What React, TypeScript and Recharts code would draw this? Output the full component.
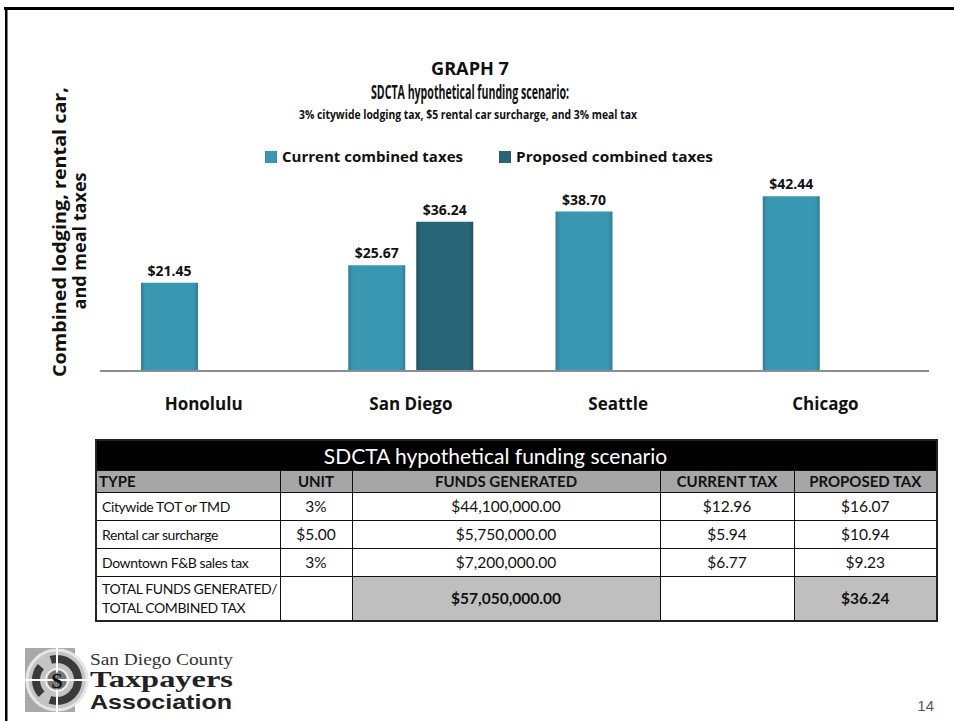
import React from 'react';
import { BarChart, Bar, XAxis, YAxis, Legend, LabelList } from 'recharts';

// chart values
const cities = ['Honolulu', 'San Diego', 'Seattle', 'Chicago'];
const currentTaxes = [21.45, 25.67, 38.7, 42.44];
const proposedTaxes: (number | null)[] = [null, 36.24, null, null];

// table values
const taxTypes = ['Citywide TOT or TMD', 'Rental car surcharge', 'Downtown F&B sales tax'];
const taxUnits = ['3%', '$5.00', '3%'];
const fundsGenerated = ['$44,100,000.00', '$5,750,000.00', '$7,200,000.00'];
const currentTax = ['$12.96', '$5.94', '$6.77'];
const proposedTax = ['$16.07', '$10.94', '$9.23'];
const totalFunds = '$57,050,000.00';
const totalProposed = '$36.24';

const CURRENT = '#3a97b1';
const PROPOSED = '#276577';
const FONT = '"Open Sans", sans-serif';

const chartData = cities.map((city, i) => ({
  city,
  current: currentTaxes[i],
  proposed: proposedTaxes[i],
}));

const money = (v: any) => (v == null ? '' : `$${Number(v).toFixed(2)}`);

function CityTick({ x, y, payload }: any) {
  return (
    <text x={x} y={y} dy={39} textAnchor="middle" fontFamily={FONT} fontWeight={700} fontSize={17} fill="#111">
      {payload.value}
    </text>
  );
}

function LegendContent({ payload }: any) {
  const widths = [181, 197];
  return (
    <svg width={470} height={20} style={{ display: 'block' }}>
      {(payload || []).map((item: any, i: number) => (
        <g key={item.value} transform={`translate(${i * 234}, 0)`}>
          <rect x={3} y={4} width={12} height={12} fill={item.color} />
          <text
            x={20}
            y={15}
            fontFamily={FONT}
            fontWeight={700}
            fontSize={14}
            fill="#111"
            textLength={widths[i]}
            lengthAdjust="spacingAndGlyphs"
          >
            {item.value}
          </text>
        </g>
      ))}
    </svg>
  );
}

const cell: React.CSSProperties = {
  border: '1px solid #111',
  padding: 0,
  textAlign: 'center',
  whiteSpace: 'nowrap',
};

const typeCell: React.CSSProperties = {
  ...cell,
  textAlign: 'left',
  paddingLeft: 5,
  fontSize: 14,
  letterSpacing: -0.4,
};

export default function App() {
  return (
    <div style={{ position: 'absolute', left: 0, top: 0, width: 954, height: 721, background: '#fff', overflow: 'hidden' }}>
      <div style={{ position: 'absolute', left: 0, top: 0 }}>
        <BarChart
          width={954}
          height={430}
          data={chartData}
          margin={{ top: 165, right: 25, bottom: -1, left: 100 }}
          barCategoryGap={41}
          barGap={11}
        >
          <defs>
            <linearGradient id="gCur" x1="0" y1="0" x2="1" y2="0">
              <stop offset="0%" stopColor="#2d7f97" />
              <stop offset="8%" stopColor={CURRENT} />
              <stop offset="92%" stopColor={CURRENT} />
              <stop offset="100%" stopColor="#2d7f97" />
            </linearGradient>
            <linearGradient id="gProp" x1="0" y1="0" x2="1" y2="0">
              <stop offset="0%" stopColor="#1e5261" />
              <stop offset="8%" stopColor={PROPOSED} />
              <stop offset="92%" stopColor={PROPOSED} />
              <stop offset="100%" stopColor="#1e5261" />
            </linearGradient>
          </defs>
          <XAxis
            dataKey="city"
            height={40}
            tickLine={false}
            tickSize={0}
            tickMargin={0}
            axisLine={{ stroke: '#8c8c8c', strokeWidth: 2 }}
            tick={<CityTick />}
            interval={0}
          />
          <YAxis hide domain={[0, 50]} />
          <Legend
            content={<LegendContent />}
            wrapperStyle={{ position: 'absolute', top: 147, left: 262, width: 470 }}
          />
          <Bar dataKey="current" name="Current combined taxes" fill="url(#gCur)" isAnimationActive={false}>
            <LabelList
              dataKey="current"
              position="top"
              offset={7}
              formatter={money}
              style={{ fontFamily: FONT, fontWeight: 700, fontSize: 14, fill: '#111' }}
            />
          </Bar>
          <Bar dataKey="proposed" name="Proposed combined taxes" fill="url(#gProp)" isAnimationActive={false}>
            <LabelList
              dataKey="proposed"
              position="top"
              offset={7}
              formatter={money}
              style={{ fontFamily: FONT, fontWeight: 700, fontSize: 14, fill: '#111' }}
            />
          </Bar>
        </BarChart>
      </div>

      {/* slide frame, titles, axis title, logo */}
      <svg width={954} height={721} style={{ position: 'absolute', left: 0, top: 0, pointerEvents: 'none' }}>
        <rect x={4} y={7} width={950} height={3} fill="#000" />
        <rect x={5} y={7} width={2.5} height={714} fill="#000" />

        <g fontFamily={FONT} fontWeight={700} fill="#111" textAnchor="middle">
          <text x={470} y={75} fontSize={18} textLength={78} lengthAdjust="spacingAndGlyphs">GRAPH 7</text>
          <text x={470} y={99} fontSize={19} textLength={198} lengthAdjust="spacingAndGlyphs">
            SDCTA hypothetical funding scenario:
          </text>
          <text x={468} y={119} fontSize={13} textLength={338} lengthAdjust="spacingAndGlyphs">
            3% citywide lodging tax, $5 rental car surcharge, and 3% meal tax
          </text>
          <text
            transform="translate(66, 232) rotate(-90)"
            fontSize={17}
            textLength={290}
            lengthAdjust="spacingAndGlyphs"
          >
            Combined lodging,  rental car,
          </text>
          <text
            transform="translate(86, 241) rotate(-90)"
            fontSize={17}
            textLength={137}
            lengthAdjust="spacingAndGlyphs"
          >
            and meal taxes
          </text>
        </g>

        {/* logo */}
        <g>
          <rect x={25} y={648} width={50} height={64} fill="#a9a9a9" />
          <circle cx={57} cy={680} r={30} fill="#c4c4c4" stroke="#e6e6e6" strokeWidth={3} />
          <circle cx={57} cy={680} r={21} fill="none" stroke="#3a3a3a" strokeWidth={8} strokeDasharray="40 10 30 12" />
          <circle cx={57} cy={680} r={11} fill="#777" stroke="#eee" strokeWidth={2} />
          <line x1={24} y1={680} x2={90} y2={680} stroke="#fff" strokeWidth={2} />
          <line x1={57} y1={646} x2={57} y2={714} stroke="#fff" strokeWidth={2} />
          <text x={57} y={688} textAnchor="middle" fontFamily="Liberation Serif" fontWeight={700} fontSize={22} fill="#111">
            $
          </text>
          <text x={90} y={665} fontFamily="Liberation Serif" fontSize={16} fill="#333" textLength={143} lengthAdjust="spacingAndGlyphs">
            San Diego County
          </text>
          <text x={90} y={687} fontFamily="Liberation Serif" fontWeight={700} fontSize={23} fill="#222" textLength={143} lengthAdjust="spacingAndGlyphs">
            Taxpayers
          </text>
          <text x={90} y={709} fontFamily="Liberation Sans" fontWeight={700} fontSize={20} fill="#222" textLength={142} lengthAdjust="spacingAndGlyphs">
            Association
          </text>
        </g>
        <text x={934} y={711} textAnchor="end" fontFamily="Liberation Sans" fontSize={15} fill="#595959">
          14
        </text>
      </svg>

      {/* data table */}
      <table
        style={{
          position: 'absolute',
          left: 95,
          top: 439,
          width: 841,
          borderCollapse: 'collapse',
          tableLayout: 'fixed',
          fontFamily: 'Lato, sans-serif',
          fontSize: 15.5,
          color: '#111',
          border: '2px solid #222',
        }}
      >
        <colgroup>
          <col style={{ width: 184 }} />
          <col style={{ width: 72 }} />
          <col style={{ width: 308 }} />
          <col style={{ width: 134 }} />
          <col style={{ width: 143 }} />
        </colgroup>
        <tbody>
          <tr style={{ height: 30 }}>
            <td colSpan={5} style={{ ...cell, background: '#000', color: '#fff', fontSize: 21, paddingRight: 42 }}>
              SDCTA hypothetical funding scenario
            </td>
          </tr>
          <tr style={{ height: 22, background: '#a6a6a6', fontWeight: 700, fontSize: 15 }}>
            <td style={{ ...cell, textAlign: 'left', paddingLeft: 2 }}>TYPE</td>
            <td style={cell}>UNIT</td>
            <td style={cell}>FUNDS GENERATED</td>
            <td style={cell}>CURRENT TAX</td>
            <td style={cell}>PROPOSED TAX</td>
          </tr>
          {taxTypes.map((t, i) => (
            <tr key={t} style={{ height: 28 }}>
              <td style={typeCell}>{t}</td>
              <td style={cell}>{taxUnits[i]}</td>
              <td style={cell}>{fundsGenerated[i]}</td>
              <td style={cell}>{currentTax[i]}</td>
              <td style={cell}>{proposedTax[i]}</td>
            </tr>
          ))}
          <tr style={{ height: 45 }}>
            <td style={{ ...typeCell, lineHeight: '19px' }}>
              TOTAL FUNDS GENERATED/
              <br />
              TOTAL COMBINED TAX
            </td>
            <td style={cell}></td>
            <td style={{ ...cell, background: '#bfbfbf', fontWeight: 700 }}>{totalFunds}</td>
            <td style={cell}></td>
            <td style={{ ...cell, background: '#bfbfbf', fontWeight: 700 }}>{totalProposed}</td>
          </tr>
        </tbody>
      </table>
    </div>
  );
}
